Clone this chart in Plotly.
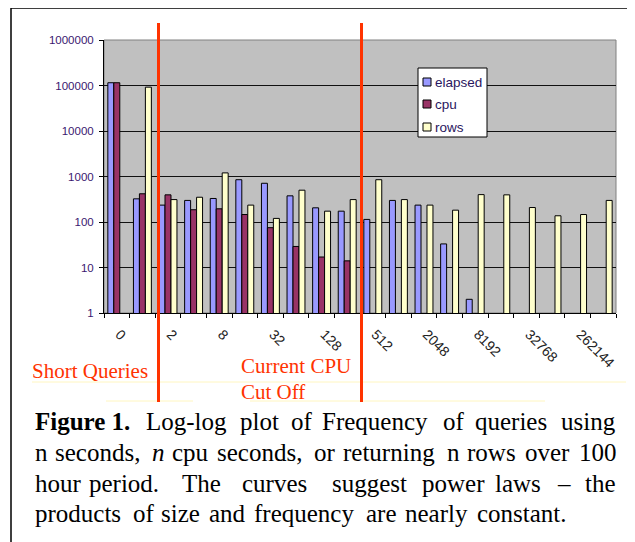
import plotly.graph_objects as go

# ---------------- data ----------------
categories = ["0", "1", "2", "4", "8", "16", "32", "64", "128", "256", "512",
              "1024", "2048", "4096", "8192", "16384", "32768", "131072",
              "262144", "524288"]
shown_labels = ["0", "2", "8", "32", "128", "512", "2048", "8192", "32768", "262144"]

elapsed = [115000, 323, 235, 298, 329, 850, 710, 376, 205, 173, 114, 298, 235,
           33, 2, None, None, None, None, None]
cpu = [115000, 417, 395, 186, 195, 146, 75, 29, 17, 14, None, None, None,
       None, None, None, None, None, None, None]
rows = [None, 92000, 311, 350, 1200, 235, 120, 500, 173, 311, 850, 311, 235,
        182, 400, 395, 208, 137, 146, 298]

y_tickvals = [1, 10, 100, 1000, 10000, 100000, 1000000]
y_ticktext = ["1", "10", "100", "1000", "10000", "100000", "1000000"]

series_names = ["elapsed", "cpu", "rows"]
series_colors = ["#9999ff", "#993366", "#ffffcc"]

# ---------------- geometry helpers ----------------
# the page body has an 8px margin, so the figure is laid out 8px up/left
OFF = 8
W, H = 635, 542
ML, MT = 104 - OFF, 40 - OFF
PW, PH = 512, 273
MR = W - ML - PW
MB = H - MT - PH


def px_x(px):
    return (px - OFF - ML) / PW


def px_y(py):
    return (H - MB - (py - OFF)) / PH


fig = go.Figure()
for name, vals, col in zip(series_names, [elapsed, cpu, rows], series_colors):
    fig.add_trace(go.Bar(x=categories, y=vals, name=name,
                         marker=dict(color=col, line=dict(color="black", width=1))))

ticktext = []
j = 0
for i, c in enumerate(categories):
    if i % 2 == 0 and j < len(shown_labels):
        ticktext.append("\u00a0" + shown_labels[j])
        j += 1
    else:
        ticktext.append("")

fig.update_layout(
    width=W, height=H,
    margin=dict(l=ML, r=MR, t=MT, b=MB, pad=0),
    paper_bgcolor="white",
    plot_bgcolor="#c0c0c0",
    bargap=0.3, bargroupgap=0,
    showlegend=False,
    font=dict(family="Arial, Liberation Sans", size=11, color="black"),
)
fig.update_xaxes(
    type="category", tickmode="array", tickvals=categories, ticktext=ticktext,
    tickson="boundaries", ticks="outside", ticklen=4, tickcolor="black",
    showline=True, linecolor="black", linewidth=1, showgrid=False,
    tickangle=45, ticklabelstandoff=4,
    tickfont=dict(family="Liberation Sans", size=14, color="#222222"),
)
fig.update_yaxes(
    type="log", range=[0, 6], tickmode="array", tickvals=y_tickvals, ticktext=y_ticktext,
    ticks="outside", ticklen=4, tickcolor="black",
    showline=True, linecolor="black", linewidth=1,
    showgrid=True, gridcolor="#111111", gridwidth=1, zeroline=False,
    ticklabelstandoff=3,
    tickfont=dict(family="Liberation Sans", size=11.5, color="#3a1870"),
)

shapes = []
# plot area border (grey top/right)
shapes.append(dict(type="rect", xref="paper", yref="paper", x0=0, x1=1, y0=0, y1=1,
                   line=dict(color="#808080", width=1), layer="below"))
# outer figure frame
shapes.append(dict(type="rect", xref="paper", yref="paper",
                   x0=px_x(11), x1=px_x(720), y0=px_y(720), y1=px_y(8),
                   line=dict(color="black", width=1.5)))
# faint yellow text-box lines
for (x0, x1, yy) in [(32, 626, 382), (106, 193, 401), (250, 545, 401)]:
    shapes.append(dict(type="line", xref="paper", yref="paper",
                       x0=px_x(x0), x1=px_x(x1), y0=px_y(yy), y1=px_y(yy),
                       line=dict(color="#fff6c0", width=1)))
# red cut-off lines
for xx in [158.5, 361.5]:
    shapes.append(dict(type="line", xref="paper", yref="paper",
                       x0=px_x(xx), x1=px_x(xx), y0=px_y(23), y1=px_y(402),
                       line=dict(color="#ff3300", width=3)))
# custom legend box
shapes.append(dict(type="rect", xref="paper", yref="paper",
                   x0=px_x(418), x1=px_x(487), y0=px_y(137), y1=px_y(68),
                   fillcolor="white", line=dict(color="black", width=1)))
leg_y = [82, 104, 127]
for yy, col in zip(leg_y, series_colors):
    shapes.append(dict(type="rect", xref="paper", yref="paper",
                       x0=px_x(423), x1=px_x(431), y0=px_y(yy + 4), y1=px_y(yy - 4),
                       fillcolor=col, line=dict(color="black", width=1)))
fig.update_layout(shapes=shapes)

annotations = []


def add_text(text, px, py, size, color, family, xanchor="left"):
    annotations.append(dict(text=text, x=px_x(px), y=px_y(py), xref="paper", yref="paper",
                            xanchor=xanchor, yanchor="middle", showarrow=False,
                            font=dict(size=size, color=color, family=family)))


for yy, name in zip(leg_y, series_names):
    add_text(name, 433, yy, 13.5, "#2a1660", "Liberation Sans")

serif = "Liberation Serif, Times New Roman, serif"
red = "#ff3300"
add_text("Short Queries", 30, 371, 21, red, serif)
add_text("Current CPU", 239, 366, 21, red, serif)
add_text("Cut Off", 239, 392, 21, red, serif)

cap = [
    (421, [(33, "<b>Figure 1.</b>"), (144, "Log-log"), (238, "plot"), (289, "of"),
           (320, "Frequency"), (441, "of"), (473, "queries"), (559, "using")]),
    (452, [(33, "n"), (53, "seconds,"), (150, "<i>n</i>"), (170, "cpu"), (215, "seconds,"),
           (312, "or"), (341, "returning"), (445, "n"), (465, "rows"), (523, "over"),
           (577, "100")]),
    (483, [(33, "hour"), (87, "period."), (180, "The"), (240, "curves"), (330, "suggest"),
           (420, "power"), (493, "laws"), (555, "–"), (583, "the")]),
    (513, [(33, "products"), (131, "of"), (159, "size"), (207, "and"), (252, "frequency"),
           (364, "are"), (403, "nearly"), (475, "constant.")]),
]
for yy, words in cap:
    for xx, w in words:
        add_text(w, xx, yy, 25, "black", serif)

fig.update_layout(annotations=annotations)
fig.write_html("out.html")
